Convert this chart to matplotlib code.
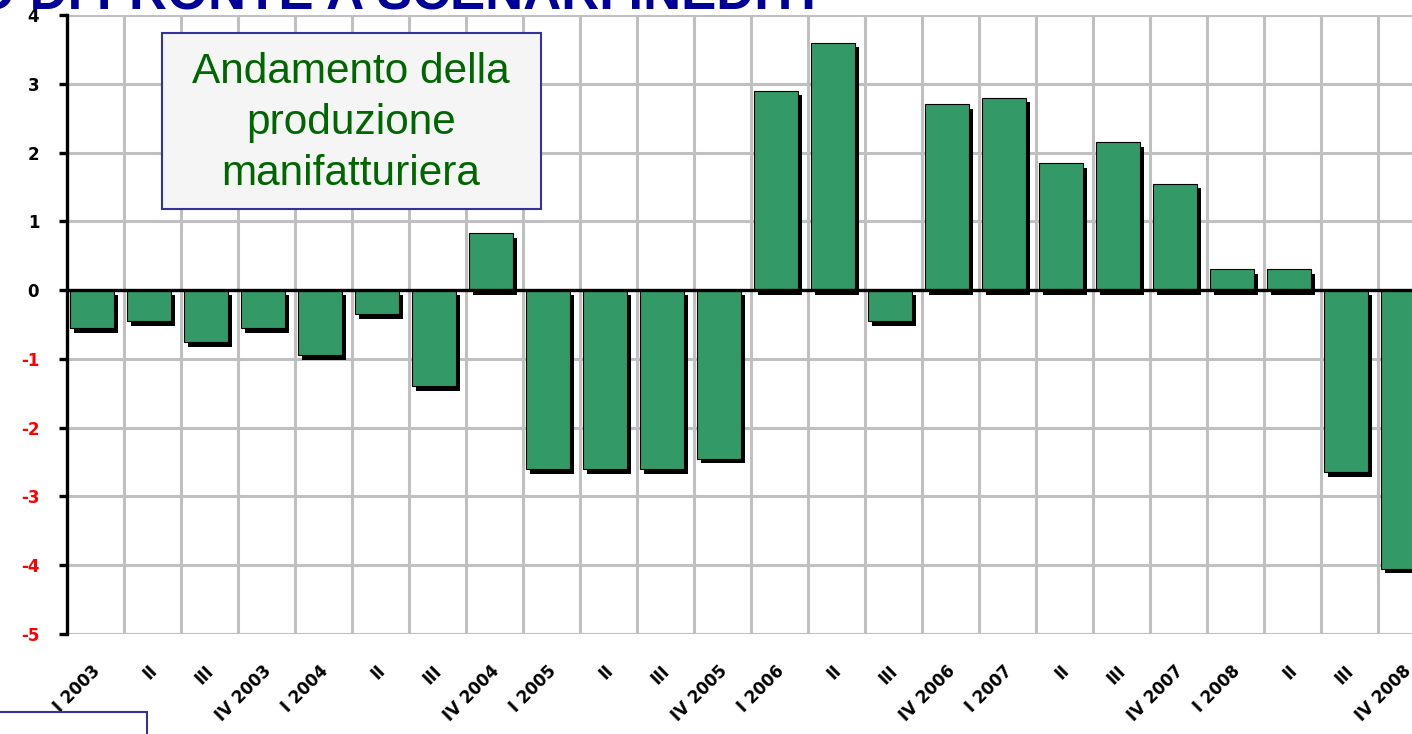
import matplotlib.pyplot as plt
import matplotlib.patches as mpatches
import numpy as np

# quarterly change of manufacturing output, 2003-2008
quarters = ['I 2003', 'II', 'III', 'IV 2003',
            'I 2004', 'II', 'III', 'IV 2004',
            'I 2005', 'II', 'III', 'IV 2005',
            'I 2006', 'II', 'III', 'IV 2006',
            'I 2007', 'II', 'III', 'IV 2007',
            'I 2008', 'II', 'III', 'IV 2008']
values = [-0.55, -0.45, -0.75, -0.55,
          -0.95, -0.35, -1.4, 0.83,
          -2.6, -2.6, -2.6, -2.45,
          2.9, 3.6, -0.45, 2.7,
          2.8, 1.85, 2.15, 1.55,
          0.3, 0.3, -2.65, -4.05]
yticks = [4, 3, 2, 1, 0, -1, -2, -3, -4, -5]

BAR_GREEN = '#339966'
GRID_GREY = '#c0c0c0'
BOX_BLUE = '#333399'

W, H = 1412, 734
fig = plt.figure(figsize=(W / 100, H / 100), dpi=100)
ax = fig.add_axes([67 / W, 1 - 634 / H, 24 * 57 / W, 619 / H])

x = np.arange(len(values))
vals = np.array(values)

# drop shadow, then the bar itself
ax.bar(x + 0.05 + 0.07, vals, width=0.78, bottom=-0.07, align='edge',
       color='black', zorder=2)
ax.bar(x + 0.05, vals, width=0.78, align='edge', color=BAR_GREEN,
       edgecolor='black', linewidth=0.8, zorder=3)

ax.axhline(0, color='black', lw=2.4, zorder=4)

ax.set_xlim(0, len(values))
ax.set_ylim(-5, 4)
ax.set_yticks(yticks)
ax.set_yticklabels([str(t) for t in yticks], fontweight='bold', fontsize=12)
for lab, t in zip(ax.get_yticklabels(), yticks):
    lab.set_color('red' if t < 0 else 'black')

ax.set_xticks(x + 0.42)
ax.set_xticks(np.arange(len(values) + 1), minor=True)
ax.set_xticklabels(quarters, rotation=45, ha='right', rotation_mode='anchor',
                   fontweight='bold', fontsize=12)
ax.tick_params(axis='x', which='both', length=0, pad=20)
ax.tick_params(axis='y', length=6, width=2.4, color='black', pad=14)

ax.grid(True, axis='y', which='major', color=GRID_GREY, lw=2.2, zorder=0)
ax.grid(True, axis='x', which='minor', color=GRID_GREY, lw=2.2, zorder=0)
ax.set_axisbelow(True)

for side in ['top', 'right', 'bottom']:
    ax.spines[side].set_visible(False)
ax.spines['left'].set_linewidth(2.4)
ax.spines['left'].set_zorder(5)
ax.axhline(4, color=GRID_GREY, lw=2.2, zorder=0)
ax.axhline(-5, color=GRID_GREY, lw=2.2, zorder=0)

# label box
fig.patches.append(mpatches.Rectangle((162 / W, 1 - 209 / H), 379 / W, 176 / H,
                                      transform=fig.transFigure,
                                      facecolor='#f5f5f5', edgecolor=BOX_BLUE,
                                      linewidth=1.5, zorder=6))
fig.text(351 / W, 1 - 123 / H, 'Andamento della\nproduzione\nmanifatturiera',
         ha='center', va='center', ma='center',
         fontsize=30.5, color='#006600', family='Liberation Sans',
         linespacing=1.36, zorder=7)

# slide title, cut by the top edge
fig.text(-26 / W, 1 - 9 / H, 'O DI FRONTE A SCENARI INEDITI', ha='left',
         va='baseline', fontsize=38, fontweight='bold', color='#000099',
         family='Liberation Sans')

# partial box at bottom left
fig.patches.append(mpatches.Rectangle((-2 / W, -0.01), 149 / W, 22 / H + 0.01,
                                      transform=fig.transFigure,
                                      facecolor='white', edgecolor=BOX_BLUE,
                                      linewidth=1.5))

fig.savefig('out.png', dpi=100)
